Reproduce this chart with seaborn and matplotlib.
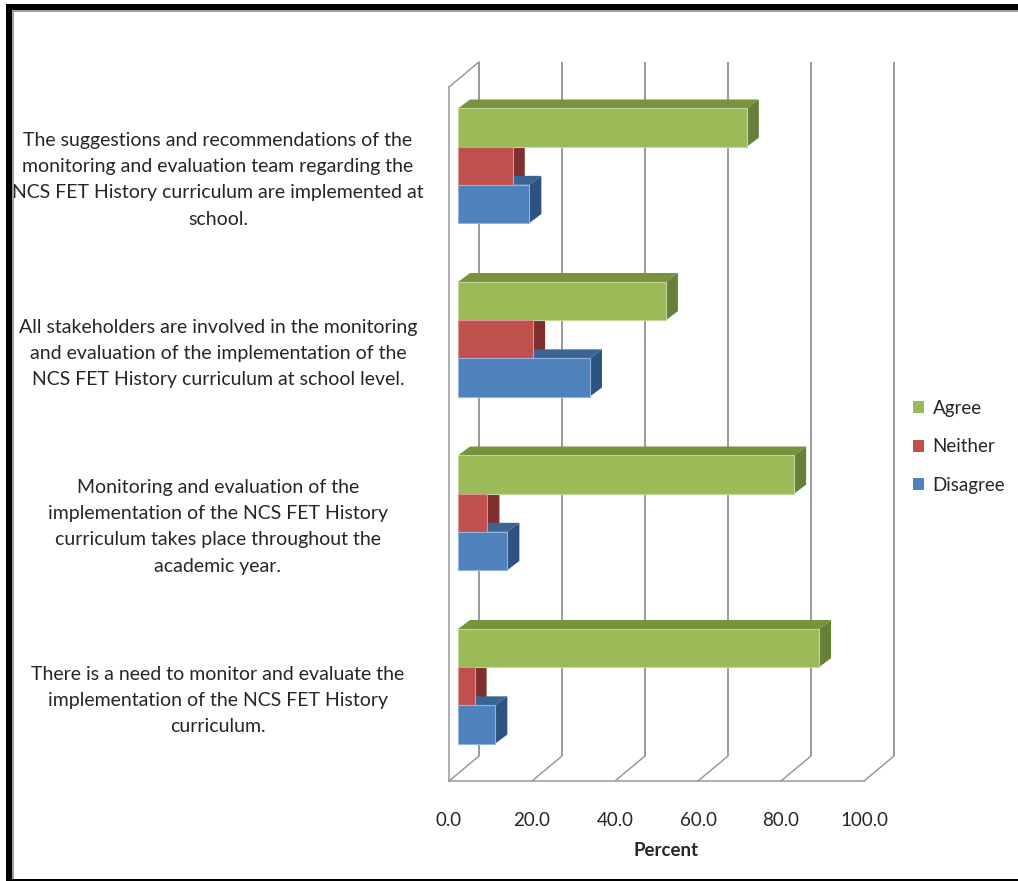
import numpy as np
import pandas as pd
import matplotlib
matplotlib.use("Agg")
import matplotlib.pyplot as plt
from matplotlib.patches import Polygon, Rectangle, Patch
from matplotlib.lines import Line2D
from matplotlib.transforms import ScaledTranslation
import seaborn as sns

# ---- data -----------------------------------------------------------------
statements = [
    "The suggestions and recommendations of the\nmonitoring and evaluation team regarding the\n"
    "NCS FET History curriculum are implemented at\nschool.",
    "All stakeholders are involved in the monitoring\nand evaluation of the implementation of the\n"
    "NCS FET History curriculum at school level.",
    "Monitoring and evaluation of the\nimplementation of the NCS FET History\n"
    "curriculum takes place throughout the\nacademic year.",
    "There is a need to monitor and evaluate the\nimplementation of the NCS FET History\ncurriculum.",
]
responses = ["Agree", "Neither", "Disagree"]
agree = [69.6, 50.1, 81.0, 87.0]
neither = [13.2, 18.1, 7.1, 4.0]
disagree = [17.2, 31.8, 11.9, 9.0]
x_ticks = [0, 20, 40, 60, 80, 100]

front_colors = {"Agree": "#9BBB59", "Neither": "#C0504D", "Disagree": "#4F81BD"}
top_colors = {"Agree": "#77933C", "Neither": "#943634", "Disagree": "#3A6494"}
side_colors = {"Agree": "#66803A", "Neither": "#7F2F2D", "Disagree": "#2E5380"}
edge_colors = {"Agree": "#C3D69B", "Neither": "#D99694", "Disagree": "#95B3D7"}

df = pd.DataFrame({
    "statement": np.repeat(statements, len(responses)),
    "response": responses * len(statements),
    "percent": np.ravel(np.column_stack([agree, neither, disagree])),
})

# ---- style ----------------------------------------------------------------
sns.set_theme(style="white")
plt.rcParams["font.family"] = ["Lato", "DejaVu Sans"]
TEXT = "#262626"
GRID = "#9a9a9a"
FS = 13.5
FS_CAT = 14

W, H, DPI = 1018, 881, 100
fig = plt.figure(figsize=(W / DPI, H / DPI), dpi=DPI)
fig.patch.set_facecolor("white")

def fx(x):
    return x / W

def fy(y):
    return 1 - y / H

# front plane of the plot
ax_l, ax_r, ax_t, ax_b = 449, 864, 87, 781
ax = fig.add_axes([fx(ax_l), fy(ax_b), (ax_r - ax_l) / W, (ax_b - ax_t) / H])
ax.set_facecolor("none")

sns.barplot(data=df, x="percent", y="statement", hue="response",
            order=statements, hue_order=responses, palette=front_colors,
            orient="h", width=0.66, saturation=1, legend=False, ax=ax)

ax.set_xlim(0, 100)
ax.set_ylim(len(statements) - 0.5, -0.5)

# 3-D depth (pixels): wall depth and bar placement within it
WALL_DX, WALL_DY = 30, 25
BAR_SHIFT_X, BAR_SHIFT_Y = 9, 8
BAR_DX, BAR_DY = 12, 9

to_disp = ax.transData.transform
to_data = ax.transData.inverted().transform


def shifted(x, y, dx, dy):
    p = to_disp((x, y)) + np.array([dx, dy])
    return to_data(p)


# back wall gridlines, floor diagonals and side-wall top edge
y_top, y_bot = -0.5, len(statements) - 0.5
for v in x_ticks:
    a = shifted(v, y_top, WALL_DX, WALL_DY)
    b = shifted(v, y_bot, WALL_DX, WALL_DY)
    ax.add_line(Line2D([a[0], b[0]], [a[1], b[1]], color=GRID, lw=1.4,
                       zorder=1, clip_on=False, solid_capstyle="butt"))
    ax.add_line(Line2D([v, b[0]], [y_bot, b[1]], color=GRID, lw=1.1,
                       zorder=1, clip_on=False))
a = shifted(0, y_top, WALL_DX, WALL_DY)
ax.add_line(Line2D([0, a[0]], [y_top, a[1]], color=GRID, lw=1.1, zorder=1, clip_on=False))

# bars: move front faces into depth, then add top and side faces
offset = ScaledTranslation(BAR_SHIFT_X / DPI, BAR_SHIFT_Y / DPI, fig.dpi_scale_trans)
bars = [p for p in ax.patches if isinstance(p, Rectangle)]
for i, bar in enumerate(bars):
    resp = responses[i // len(statements)]
    x0, y0, w, h = bar.get_x(), bar.get_y(), bar.get_width(), bar.get_height()
    corners = to_disp([(x0, y0), (x0 + w, y0 + h)])
    L, R = corners[:, 0].min() + BAR_SHIFT_X, corners[:, 0].max() + BAR_SHIFT_X
    B, T = corners[:, 1].min() + BAR_SHIFT_Y, corners[:, 1].max() + BAR_SHIFT_Y
    bar.set_transform(ax.transData + offset)
    bar.set_edgecolor(edge_colors[resp])
    bar.set_linewidth(0.8)
    bar.set_zorder(3)
    bar.set_clip_on(False)
    top = [(L, T), (R, T), (R + BAR_DX, T + BAR_DY), (L + BAR_DX, T + BAR_DY)]
    side = [(R, B), (R, T), (R + BAR_DX, T + BAR_DY), (R + BAR_DX, B + BAR_DY)]
    ax.add_patch(Polygon(to_data(top), closed=True, facecolor=top_colors[resp],
                         edgecolor="none", zorder=2, clip_on=False))
    ax.add_patch(Polygon(to_data(side), closed=True, facecolor=side_colors[resp],
                         edgecolor="none", zorder=2, clip_on=False))

# axes, ticks and labels
for s in ["top", "right"]:
    ax.spines[s].set_visible(False)
for s in ["left", "bottom"]:
    ax.spines[s].set_color(GRID)
    ax.spines[s].set_linewidth(1.1)

ax.set_xticks(x_ticks)
ax.set_xticklabels([f"{v:.1f}" for v in x_ticks], fontsize=FS, color=TEXT)
ax.tick_params(axis="x", direction="out", length=4, width=1.1, color=GRID, pad=18)

ax.set_yticks(range(len(statements)))
ax.set_yticklabels(statements, fontsize=FS_CAT, color=TEXT, linespacing=1.66)
ax.set_yticks(np.arange(len(statements) + 1) - 0.5, minor=True)
ax.tick_params(axis="y", which="major", length=0, pad=(ax_l - 218) * 0.72)
ax.tick_params(axis="y", which="minor", direction="out", length=3, width=1.1, color=GRID)
for lbl in ax.get_yticklabels():
    lbl.set_ha("center")
    lbl.set_multialignment("center")

ax.set_xlabel("Percent", fontsize=FS, fontweight="bold", color=TEXT)
ax.set_ylabel("")
ax.xaxis.set_label_coords((666 - ax_l) / (ax_r - ax_l), -(850 - ax_b) / (ax_b - ax_t))
ax.xaxis.label.set_va("center")

# legend
handles = [Patch(facecolor=front_colors[r], edgecolor="none") for r in responses]
fig.legend(handles, responses, loc="center left", bbox_to_anchor=(fx(896), fy(447)),
           frameon=False, fontsize=FS, handlelength=0.6, handleheight=0.6,
           handletextpad=0.45, labelspacing=1.15, labelcolor=TEXT)

# outer frame
fig.add_artist(Rectangle((fx(6), fy(10)), 1 - fx(6), 6 / H, transform=fig.transFigure,
                         facecolor="black", edgecolor="none"))
fig.add_artist(Rectangle((fx(6), 0), 6 / W, fy(4), transform=fig.transFigure,
                         facecolor="black", edgecolor="none"))
fig.add_artist(Rectangle((fx(6), 0), 1 - fx(6), 2 / H, transform=fig.transFigure,
                         facecolor="black", edgecolor="none"))
fig.add_artist(Rectangle((fx(12), fy(11.5)), 1 - fx(12), 1.5 / H, transform=fig.transFigure,
                         facecolor="#a0a0a0", edgecolor="none"))
fig.add_artist(Rectangle((fx(12), fy(879)), 1.5 / W, (879 - 11.5) / H, transform=fig.transFigure,
                         facecolor="#a0a0a0", edgecolor="none"))

fig.savefig("out.png", dpi=DPI)
